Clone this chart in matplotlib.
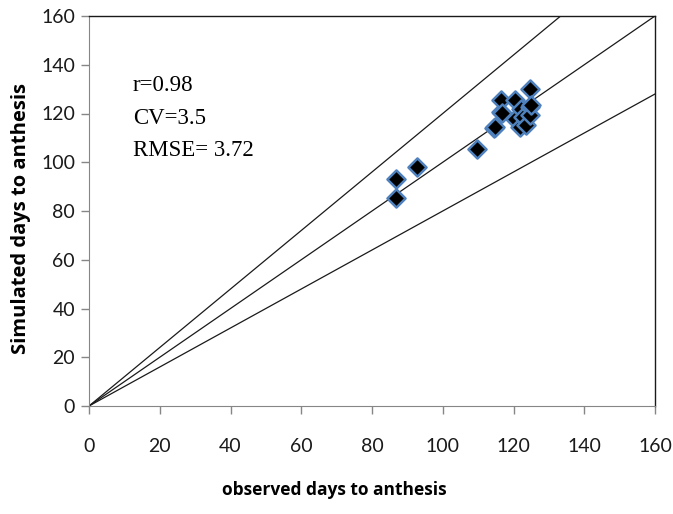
import matplotlib
matplotlib.use("Agg")
import matplotlib.pyplot as plt
import numpy as np

observed = [86.7, 86.7, 92.7, 109.7, 114.5, 114.7, 116.6, 116.6, 116.8, 120.3, 120.3,
            121.8, 122.2, 122.7, 123.6, 124.6, 124.6, 124.6, 125.0]
simulated = [85.4, 93.3, 98.1, 105.3, 114.2, 114.5, 120.6, 125.4, 120.2, 125.4, 117.9,
             114.5, 122.0, 118.6, 115.2, 130.2, 122.7, 119.3, 123.4]
line_slopes = [1.2, 1.0, 0.8]
ticks = [0, 20, 40, 60, 80, 100, 120, 140, 160]
stats_text = ["r=0.98", "CV=3.5", "RMSE= 3.72"]

fig = plt.figure(figsize=(6.73, 5.14), dpi=100)
ax = fig.add_axes([89/673, 108/514, 566/673, 390/514])

xs = np.array([0, 160])
for s in line_slopes:
    ax.plot(xs, s * xs, color="#1a1a1a", lw=0.9, zorder=2)

ax.scatter(observed, simulated, marker="D", s=85, facecolor="black",
           edgecolor="#4F81BD", linewidth=1.8, zorder=3)

ax.set_xlim(0, 160)
ax.set_ylim(0, 160)
ax.set_xticks(ticks)
ax.set_yticks(ticks)
tick_font = dict(family=["Lato", "DejaVu Sans"], size=14, color="#1a1a1a")
ax.set_xticklabels([str(t) for t in ticks], **tick_font)
ax.set_yticklabels([str(t) for t in ticks], **tick_font)
ax.tick_params(axis="both", direction="out", length=6, color="#868686", width=1)
ax.tick_params(axis="x", pad=17)
ax.tick_params(axis="y", pad=4)

for side in ["left", "bottom"]:
    ax.spines[side].set_color("#868686")
for side in ["top", "right"]:
    ax.spines[side].set_color("#1a1a1a")
    ax.spines[side].set_linewidth(1.0)

fig.text(334/673, 1 - 490/514, "observed days to anthesis", family=["Open Sans", "DejaVu Sans"],
         fontweight="bold", fontsize=12.5, ha="center", va="center")
fig.text(21/673, 1 - 218/514, "Simulated days to anthesis", family=["Open Sans", "DejaVu Sans"],
         fontweight="bold", fontsize=14.5, ha="center", va="center", rotation=90)

stats_y = [131.5, 118.0, 105.0]
for t, yv in zip(stats_text, stats_y):
    ax.text(12.4, yv, t, family=["Liberation Serif", "DejaVu Serif"],
            fontsize=16.5, va="center", ha="left", color="black")

fig.savefig("out.png", dpi=100)
